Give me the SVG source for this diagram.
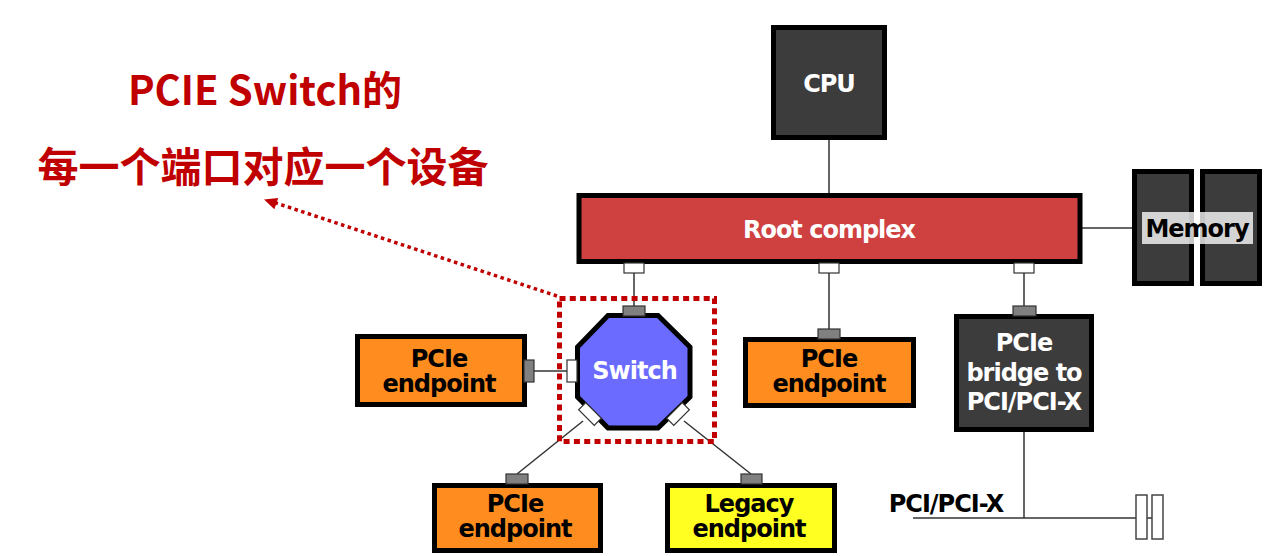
<svg xmlns="http://www.w3.org/2000/svg" width="1264" height="556" viewBox="0 0 1264 556">
<style>
.lbl{font-family:"DejaVu Sans","Verdana",sans-serif;font-weight:bold;font-size:24px;letter-spacing:-1px;text-anchor:middle}
.w{fill:#ffffff}
.k{fill:#000000}
.box{stroke:#000;stroke-width:5}
.dark{fill:#3c3c3c}
.orange{fill:#ff8c1f}
.port{fill:#808080;stroke:#333;stroke-width:1.2}
.wport{fill:#ffffff;stroke:#333;stroke-width:1.2}
.ln{stroke:#333;stroke-width:1.5;fill:none}
.title{font-family:"Noto Sans CJK SC","Microsoft YaHei",sans-serif;font-weight:bold;font-size:40px;fill:#c00000;text-anchor:middle}
</style>
<rect width="1264" height="556" fill="#ffffff"/>
<g id="connectors">
<line class="ln" x1="829" y1="140" x2="829" y2="193"/>
<line class="ln" x1="1082" y1="228" x2="1132" y2="228"/>
<line class="ln" x1="634" y1="273" x2="634" y2="306"/>
<line class="ln" x1="829" y1="273" x2="829" y2="329"/>
<line class="ln" x1="1024" y1="273" x2="1024" y2="306"/>
<line class="ln" x1="534" y1="371" x2="567" y2="371"/>
<line class="ln" x1="583" y1="421" x2="517" y2="474"/>
<line class="ln" x1="684" y1="421" x2="751" y2="474"/>
<line class="ln" x1="1024" y1="432" x2="1024" y2="518"/>
<line class="ln" x1="913" y1="518" x2="1152" y2="518"/>
</g>
<g id="cpu">
<rect class="box dark" x="773.5" y="27.5" width="111" height="110"/>
<text class="lbl w" x="829" y="92">CPU</text>
</g>
<g id="root-complex">
<rect class="box" fill="#cf4040" x="579" y="195.5" width="501" height="66"/>
<text class="lbl w" x="829" y="238">Root complex</text>
<rect class="wport" x="624" y="263" width="20" height="10"/>
<rect class="wport" x="819" y="263" width="20" height="10"/>
<rect class="wport" x="1014" y="263" width="20" height="10"/>
</g>
<g id="memory">
<rect class="box dark" x="1134.5" y="171.5" width="57" height="112"/>
<rect class="box dark" x="1202.5" y="171.5" width="57" height="112"/>
<rect x="1142" y="212" width="111" height="32" fill="#ffffff" fill-opacity="0.78"/>
<text class="lbl k" x="1197" y="237">Memory</text>
</g>
<g id="switch">
<polygon class="box" fill="#6b6bff" points="608,315.5 658,315.5 690,347 690,397 658,428 608,428 577.5,397 577.5,347"/>
<rect class="port" x="623" y="306" width="22" height="10"/>
<rect class="wport" x="567" y="360" width="10" height="22"/>
<rect class="wport" x="-11" y="-5" width="22" height="10" transform="translate(590,414) rotate(45)"/>
<rect class="wport" x="-11" y="-5" width="22" height="10" transform="translate(678,414) rotate(-45)"/>
<text class="lbl w" x="634.5" y="379">Switch</text>
</g>
<g id="endpoint-left">
<rect class="box orange" x="357.5" y="336.5" width="167" height="68"/>
<rect class="port" x="524" y="360" width="10" height="22"/>
<text class="lbl k" x="439" y="367">PCIe</text>
<text class="lbl k" x="439" y="392">endpoint</text>
</g>
<g id="endpoint-middle">
<rect class="box orange" x="745.5" y="339.5" width="168" height="66"/>
<rect class="port" x="818" y="329" width="22" height="10"/>
<text class="lbl k" x="829" y="367">PCIe</text>
<text class="lbl k" x="829" y="392">endpoint</text>
</g>
<g id="bridge">
<rect class="box dark" x="956.5" y="316.5" width="135" height="113"/>
<rect class="port" x="1013" y="306" width="23" height="10"/>
<text class="lbl w" x="1024" y="351">PCIe</text>
<text class="lbl w" x="1024" y="381">bridge to</text>
<text class="lbl w" x="1024" y="410">PCI/PCI-X</text>
</g>
<g id="endpoint-bottom-left">
<rect class="box orange" x="434.5" y="485.5" width="166" height="65"/>
<rect class="port" x="506" y="474" width="22" height="10"/>
<text class="lbl k" x="515" y="512">PCIe</text>
<text class="lbl k" x="515" y="537">endpoint</text>
</g>
<g id="legacy-endpoint">
<rect class="box" fill="#ffff22" x="667.5" y="485.5" width="167" height="65"/>
<rect class="port" x="741" y="474" width="21" height="10"/>
<text class="lbl k" x="749" y="512">Legacy</text>
<text class="lbl k" x="749" y="537">endpoint</text>
</g>
<g id="pci-bus">
<text class="lbl k" x="946" y="512">PCI/PCI-X</text>
<rect x="1136" y="495" width="11" height="44" fill="#ffffff" stroke="#444" stroke-width="1.5"/>
<rect x="1152" y="495" width="11" height="44" fill="#ffffff" stroke="#444" stroke-width="1.5"/>
</g>
<g id="highlight">
<rect x="559.5" y="298.5" width="155" height="143" fill="none" stroke="#c00000" stroke-width="5" stroke-dasharray="6 4.3"/>
<line x1="557" y1="296" x2="276" y2="203" stroke="#c00000" stroke-width="3.5" stroke-dasharray="3.5 3.5"/>
<polygon points="264,199.5 278.2,197.9 274.4,209.3" fill="#c00000"/>
</g>
<g id="title">
<text class="title" x="265" y="105">PCIE Switch的</text>
<text class="title" x="263" y="182" style="font-size:41px">每一个端口对应一个设备</text>
</g>
</svg>
